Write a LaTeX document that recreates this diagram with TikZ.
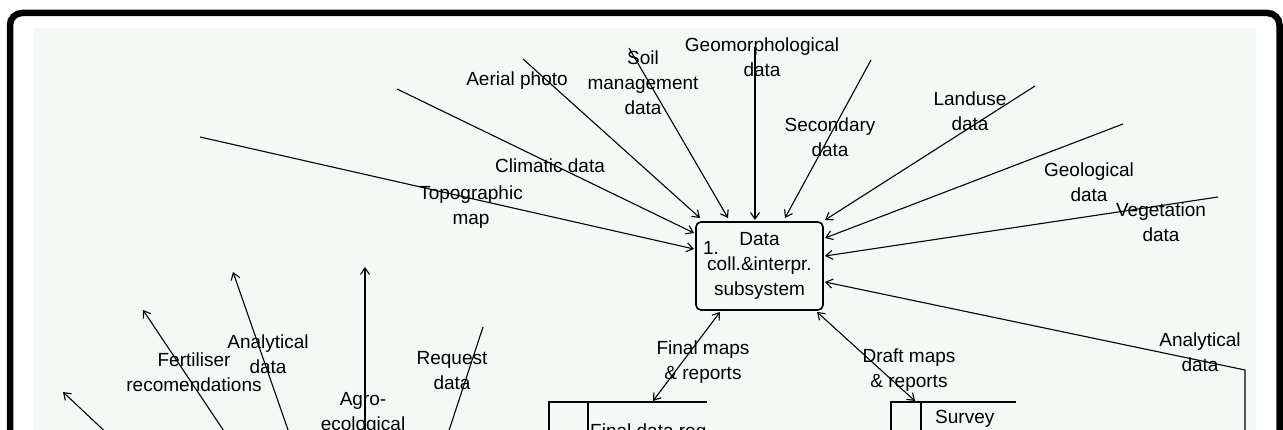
\documentclass[tikz,border=0pt]{standalone}
\usepackage{fontspec}
\setmainfont{Liberation Sans}
\usetikzlibrary{arrows.meta}
\definecolor{panel}{RGB}{245,249,246}
\begin{document}
\begin{tikzpicture}[x=1pt,y=-1pt,
  tip/.tip={Straight Barb[length=6.5pt,width=9pt,line width=1.1pt]},
  flow/.style={line width=1.1pt,-tip},
  twoway/.style={line width=1.1pt,tip-tip},
  wire/.style={line width=1.1pt},
  storeline/.style={line width=1.5pt},
  lbl/.style={font=\fontsize{19}{25}\selectfont,align=center,inner sep=0pt},
  proc/.style={draw,line width=1.6pt,rounded corners=5pt,fill=panel,
    minimum width=127pt,minimum height=88pt,inner sep=0pt,
    font=\fontsize{19}{25}\selectfont,align=center}]
\useasboundingbox (0,0) rectangle (1283,430);
\clip (0,0) rectangle (1283,430);

% page, frame and drawing panel
\fill[white] (0,0) rectangle (1283,430);
\draw[line width=6.5pt,rounded corners=12pt] (10,13) rectangle (1279.5,520);
\fill[panel] (33,28) rectangle (1256,445);

% process
\node[proc] (p1) at (759.5,266) {Data\\coll.\&interpr.\\subsystem};
\node[lbl] (p1num) at (711,248) {1.};

% flow end points
\coordinate (s-topo) at (200,137);   \coordinate (t-topo) at (694,249);
\coordinate (s-clim) at (397,89);    \coordinate (t-clim) at (694,233);
\coordinate (s-aer)  at (523,59);    \coordinate (t-aer)  at (700,218);
\coordinate (s-soil) at (629,48);    \coordinate (t-soil) at (728,218);
\coordinate (s-geom) at (755,47);    \coordinate (t-geom) at (755,220);
\coordinate (s-sec)  at (871,60);    \coordinate (t-sec)  at (785,218);
\coordinate (s-land) at (1035,86);   \coordinate (t-land) at (825,220);
\coordinate (s-geol) at (1123,124);  \coordinate (t-geol) at (825,238);
\coordinate (s-veg)  at (1218,197);  \coordinate (t-veg)  at (825,256);
\coordinate (s-anr)  at (1245,470);  \coordinate (b-anr)  at (1245,370);
\coordinate (t-anr)  at (825,282);
\coordinate (f-top)  at (720,312);   \coordinate (f-bot)  at (653,401);
\coordinate (d-top)  at (817,312);   \coordinate (d-bot)  at (915,401);
\coordinate (s-l1)   at (146,470);   \coordinate (t-l1)   at (63,392);
\coordinate (s-fert) at (250,470);   \coordinate (t-fert) at (143,310);
\coordinate (s-anl)  at (302,470);   \coordinate (t-anl)  at (233,272);
\coordinate (s-agro) at (365,470);   \coordinate (t-agro) at (365,267);
\coordinate (s-req)  at (483,327);   \coordinate (t-req)  at (436,470);

% incoming data flows
\draw[flow] (s-topo) -- (t-topo);
\draw[flow] (s-clim) -- (t-clim);
\draw[flow] (s-aer)  -- (t-aer);
\draw[flow] (s-soil) -- (t-soil);
\draw[flow,line width=1.5pt] (s-geom) -- (t-geom);
\draw[flow] (s-sec)  -- (t-sec);
\draw[flow] (s-land) -- (t-land);
\draw[flow] (s-geol) -- (t-geol);
\draw[flow] (s-veg)  -- (t-veg);
\draw[flow] (s-anr) -- (b-anr) -- (t-anr);

% exchanges with the data stores
\draw[twoway] (f-top) -- (f-bot);
\draw[twoway] (d-top) -- (d-bot);

% flows leaving towards the lower left
\draw[flow] (s-l1)   -- (t-l1);
\draw[flow] (s-fert) -- (t-fert);
\draw[flow] (s-anl)  -- (t-anl);
\draw[flow,line width=1.5pt] (s-agro) -- (t-agro);
\draw[wire] (s-req)  -- (t-req);

% data stores
\coordinate (fs-a) at (549,402); \coordinate (fs-b) at (707,402);
\coordinate (fs-c) at (549,470); \coordinate (fs-d) at (588,402);
\coordinate (fs-e) at (588,470);
\draw[storeline] (fs-c) -- (fs-a) -- (fs-b);
\draw[storeline] (fs-d) -- (fs-e);
\node[lbl,anchor=base west] (fstore) at (590,437) {Final data reg};

\coordinate (ss-a) at (891,402); \coordinate (ss-b) at (1016,402);
\coordinate (ss-c) at (891,470); \coordinate (ss-d) at (921,402);
\coordinate (ss-e) at (921,470);
\draw[storeline] (ss-c) -- (ss-a) -- (ss-b);
\draw[storeline] (ss-d) -- (ss-e);
\node[lbl,anchor=base west] (sstore) at (935,424) {Survey};

% flow labels
\node[lbl] (l-aer)  at (517,81)    {Aerial photo};
\node[lbl] (l-soil) at (643,83)    {Soil\\management\\data};
\node[lbl] (l-geom) at (762,57)    {Geomorphological\\data};
\node[lbl] (l-sec)  at (830,137)   {Secondary\\data};
\node[lbl] (l-land) at (970,111)   {Landuse\\data};
\node[lbl] (l-geol) at (1089,182)  {Geological\\data};
\node[lbl] (l-veg)  at (1161,222)  {Vegetation\\data};
\node[lbl] (l-clim) at (550,166)   {Climatic data};
\node[lbl] (l-topo) at (471,207)   {Topographic\\map};
\node[lbl] (l-fin)  at (703,362)   {Final maps\\\& reports};
\node[lbl] (l-dra)  at (909,370)   {Draft maps\\\& reports};
\node[lbl] (l-anr)  at (1200,352)  {Analytical\\data};
\node[lbl] (l-anl)  at (268,354)   {Analytical\\data};
\node[lbl] (l-fert) at (194,372)   {Fertiliser\\recomendations};
\node[lbl] (l-agro) at (363,413)   {Agro-\\ecological};
\node[lbl] (l-req)  at (452,371)   {Request\\data};
\end{tikzpicture}
\end{document}
